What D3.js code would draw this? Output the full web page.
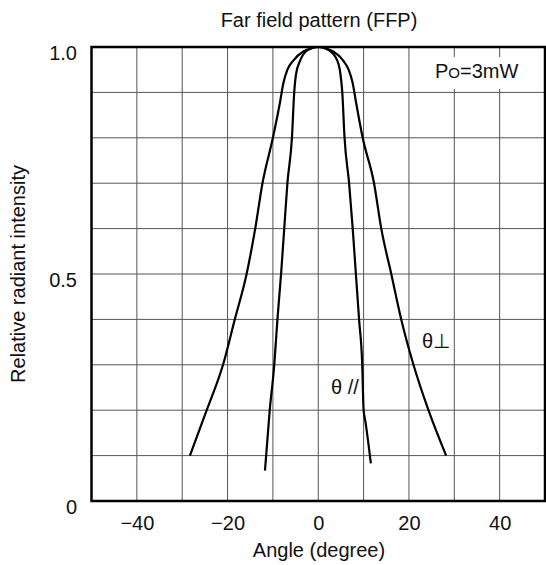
<!DOCTYPE html>
<html>
<head>
<meta charset="utf-8">
<script src="https://cdn.jsdelivr.net/npm/d3@7"></script>
<style>
  body { margin: 0; background: #fff; }
  text { font-family: "Liberation Sans", Arial, sans-serif; fill: #111; }
</style>
</head>
<body>
<div class="chart"></div>
<script>
// curve: angle (deg) and relative intensity
var perpAngle = [-28.3, -24.6, -21.0, -18.4, -15.8, -13.9, -12.3, -10.0, -8.4, -7.7, -6.8, -5.5, -3.3, 0,
                 3.3, 5.5, 6.7, 7.6, 8.3, 9.8, 12.3, 13.9, 16.1, 18.3, 21.0, 24.3, 28.2];
var perpValue = [0.10, 0.20, 0.30, 0.40, 0.50, 0.60, 0.70, 0.80, 0.88, 0.92, 0.95, 0.97, 0.99, 1.0,
                 0.99, 0.97, 0.95, 0.92, 0.88, 0.80, 0.70, 0.60, 0.50, 0.40, 0.30, 0.20, 0.10];
var paraAngle = [-11.75, -10.7, -9.7, -9.0, -8.2, -7.5, -6.8, -5.8, -5.3, -4.9, -4.0, -2.2, 0,
                 2.2, 4.2, 4.9, 5.3, 5.8, 6.8, 7.6, 8.3, 9.0, 9.7, 10.0, 10.4, 11.6];
var paraValue = [0.067, 0.20, 0.30, 0.40, 0.50, 0.60, 0.70, 0.80, 0.90, 0.94, 0.97, 0.994, 1.0,
                 0.994, 0.97, 0.94, 0.90, 0.80, 0.70, 0.60, 0.50, 0.40, 0.30, 0.20, 0.175, 0.083];
var xTicks = [-40, -20, 0, 20, 40];
var yTicks = [0, 0.5, 1.0];
var yTickLabels = ["0", "0.5", "1.0"];

var width = 546, height = 565;
var plot = { left: 91.5, right: 545, top: 47, bottom: 501 };

var svg = d3.select('.chart')
    .append('svg')
    .attr('width', width)
    .attr('height', height);

var xScale = d3.scaleLinear().domain([-50, 50]).range([plot.left, plot.right]);
var yScale = d3.scaleLinear().domain([0, 1]).range([plot.bottom, plot.top]);

// grid
var grid = svg.append('g').attr('stroke', '#555').attr('stroke-width', 1);
d3.range(-40, 50, 10).forEach(function (v) {
    grid.append('line')
        .attr('x1', xScale(v)).attr('x2', xScale(v))
        .attr('y1', plot.top).attr('y2', plot.bottom);
});
d3.range(1, 10).forEach(function (i) {
    grid.append('line')
        .attr('x1', plot.left).attr('x2', plot.right)
        .attr('y1', yScale(i / 10)).attr('y2', yScale(i / 10));
});

// white box behind the Po label
svg.append('rect')
    .attr('x', 430).attr('y', 57)
    .attr('width', 100).attr('height', 32)
    .attr('fill', '#fff');

// axes (labels only)
var xAxis = d3.axisBottom(xScale).tickValues(xTicks).tickSize(0).tickPadding(0);
var gx = svg.append('g')
    .attr('transform', 'translate(0,' + plot.bottom + ')')
    .call(xAxis);
gx.select('.domain').remove();
gx.selectAll('text')
    .attr('y', 29).attr('dy', 0)
    .style('font-size', '20px')
    .style('font-family', '"Liberation Sans", Arial, sans-serif')
    .attr('fill', '#111');

var yAxis = d3.axisLeft(yScale).tickValues(yTicks).tickSize(0)
    .tickFormat(function (d, i) { return yTickLabels[i]; });
var gy = svg.append('g')
    .attr('transform', 'translate(77,0)')
    .call(yAxis);
gy.select('.domain').remove();
gy.selectAll('text')
    .attr('x', 0).attr('dy', '0.6em')
    .style('font-size', '20px')
    .style('font-family', '"Liberation Sans", Arial, sans-serif')
    .attr('fill', '#111');

// curves
var line = d3.line()
    .x(function (d) { return xScale(d[0]); })
    .y(function (d) { return yScale(d[1]); })
    .curve(d3.curveMonotoneX);

var perp = d3.zip(perpAngle, perpValue);
var para = d3.zip(paraAngle, paraValue);

[perp, para].forEach(function (s) {
    svg.append('path')
        .datum(s)
        .attr('d', line)
        .attr('fill', 'none')
        .attr('stroke', '#000')
        .attr('stroke-width', 2.2);
});

// frame
svg.append('rect')
    .attr('x', plot.left).attr('y', plot.top)
    .attr('width', plot.right - plot.left)
    .attr('height', plot.bottom - plot.top)
    .attr('fill', 'none')
    .attr('stroke', '#000')
    .attr('stroke-width', 2.5);

// titles and notes
svg.append('text')
    .attr('x', 319).attr('y', 27)
    .attr('text-anchor', 'middle')
    .style('font-size', '20px')
    .text('Far field pattern (FFP)');

svg.append('text')
    .attr('x', 319).attr('y', 557)
    .attr('text-anchor', 'middle')
    .style('font-size', '20px')
    .text('Angle (degree)');

svg.append('text')
    .attr('transform', 'translate(25,274) rotate(-90)')
    .attr('text-anchor', 'middle')
    .style('font-size', '20px')
    .text('Relative radiant intensity');

var po = svg.append('text')
    .attr('x', 435).attr('y', 78)
    .style('font-size', '20px');
po.append('tspan').text('P');
po.append('tspan').style('font-size', '15px').text('O');
po.append('tspan').text('=3mW');

svg.append('text')
    .attr('x', 422).attr('y', 348)
    .style('font-size', '20px')
    .text('θ⊥');

svg.append('text')
    .attr('x', 331).attr('y', 394)
    .style('font-size', '20px')
    .text('θ //');
</script>
</body>
</html>
